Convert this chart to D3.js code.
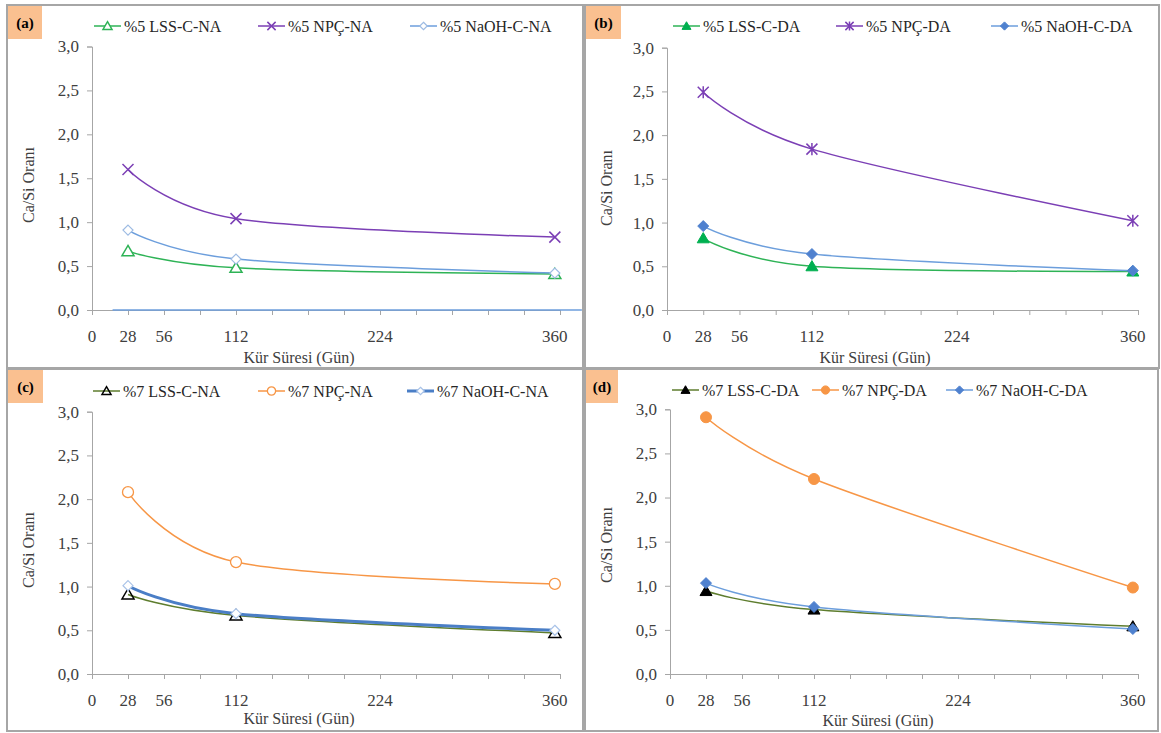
<!DOCTYPE html>
<html><head><meta charset="utf-8">
<script src="https://cdn.jsdelivr.net/npm/d3@7"></script>
<style>
body{margin:0;background:#fff}
svg{display:block}
svg text{font-family:"Liberation Serif","Times New Roman",serif !important}
</style>
</head><body>
<svg id="chart" width="1161" height="733"></svg>
<script>
// ---- data ----
const days = [28, 112, 360];
const xTickLabels = [0, 28, 56, 112, 224, 360];
const xTickMarks = d3.range(0, 365, 28);
const yTicks = [0, 0.5, 1.0, 1.5, 2.0, 2.5, 3.0];
const xTitle = "Kür Süresi (Gün)";
const yTitle = "Ca/Si Oranı";

const aNames = ["%5 LSS-C-NA", "%5 NPÇ-NA", "%5 NaOH-C-NA"];
const aLSS  = [0.67, 0.48, 0.41];
const aNPC  = [1.60, 1.04, 0.83];
const aNaOH = [0.91, 0.58, 0.42];
const aZeroDays = [16, 381];
const aZeroVals = [0, 0];

const bNames = ["%5 LSS-C-DA", "%5 NPÇ-DA", "%5 NaOH-C-DA"];
const bLSS  = [0.82, 0.50, 0.44];
const bNPC  = [2.49, 1.84, 1.02];
const bNaOH = [0.96, 0.64, 0.45];

const cNames = ["%7 LSS-C-NA", "%7 NPÇ-NA", "%7 NaOH-C-NA"];
const cLSS  = [0.91, 0.67, 0.47];
const cNPC  = [2.08, 1.28, 1.03];
const cNaOH = [1.01, 0.69, 0.50];

const dNames = ["%7 LSS-C-DA", "%7 NPÇ-DA", "%7 NaOH-C-DA"];
const dLSS  = [0.94, 0.73, 0.54];
const dNPC  = [2.91, 2.21, 0.98];
const dNaOH = [1.03, 0.76, 0.51];

// ---- drawing ----
const FONT = '"Liberation Serif", "Times New Roman", serif';
const svg = d3.select("#chart");
const fmt = v => d3.format(".1f")(v).replace(".", ",");

function markerPath(type, s) {
  const h = s / 2;
  if (type === "tri") return `M0,${-h*0.95}L${h},${h*0.75}L${-h},${h*0.75}Z`;
  if (type === "diamond") return `M0,${-h}L${h},0L0,${h}L${-h},0Z`;
  if (type === "x") return `M${-h},${-h}L${h},${h}M${-h},${h}L${h},${-h}`;
  if (type === "star") return `M${-h},${-h}L${h},${h}M${-h},${h}L${h},${-h}M0,${-h*1.1}L0,${h*1.1}`;
  if (type === "circle") return `M${h},0A${h},${h} 0 1,1 ${-h},0A${h},${h} 0 1,1 ${h},0Z`;
  return "";
}

function drawMarker(g, m, x, y, scale) {
  const s = m.size * (scale || 1);
  const p = g.append("path")
    .attr("transform", `translate(${x},${y})`)
    .attr("d", markerPath(m.type, s));
  if (m.type === "x" || m.type === "star") {
    p.attr("fill", "none").attr("stroke", m.stroke).attr("stroke-width", 1.5);
  } else {
    p.attr("fill", m.fill).attr("stroke", m.stroke).attr("stroke-width", m.sw || 1.3);
  }
}

function drawPanel(cfg) {
  const g = svg.append("g").style("font-family", FONT);
  g.append("rect").attr("x", cfg.frame[0]).attr("y", cfg.frame[1])
    .attr("width", cfg.frame[2]).attr("height", cfg.frame[3])
    .attr("fill", "#fff").attr("stroke", "#a6a6a6").attr("stroke-width", 2);
  g.append("rect").attr("x", cfg.frame[0] + 1).attr("y", cfg.frame[1] + 1)
    .attr("width", cfg.labW).attr("height", 33).attr("fill", "#fac090");
  g.append("text").attr("x", cfg.frame[0] + 1 + cfg.labW / 2).attr("y", cfg.frame[1] + 23)
    .attr("text-anchor", "middle").attr("font-weight", "bold").attr("font-size", 15)
    .style("font-family", FONT).attr("fill", "#000").text(cfg.label);

  const x = d3.scaleLinear().domain([0, 364]).range([cfg.x0, cfg.x1]);
  const y = d3.scaleLinear().domain([0, 3]).range([cfg.yb, cfg.yt]);

  const yAxis = g.append("g").attr("transform", `translate(${cfg.x0},0)`)
    .call(d3.axisLeft(y).tickValues(yTicks).tickFormat(fmt).tickSize(5).tickPadding(8));
  yAxis.attr("font-family", null).attr("font-size", 17);
  yAxis.select(".domain").attr("stroke", "#a6a6a6").attr("stroke-width", 1);
  yAxis.selectAll(".tick line").attr("stroke", "#a6a6a6");
  yAxis.selectAll(".tick text").attr("font-size", 17).attr("fill", "#404040").style("font-family", FONT);

  const xAxis = g.append("g").attr("transform", `translate(0,${cfg.yb})`)
    .call(d3.axisBottom(x).tickValues(xTickMarks).tickFormat("").tickSize(5).tickSizeOuter(0));
  xAxis.attr("font-family", null);
  xAxis.select(".domain").attr("stroke", "#a6a6a6").attr("stroke-width", 1);
  xAxis.selectAll(".tick line").attr("stroke", "#a6a6a6");
  g.selectAll(null).data(xTickLabels).enter().append("text")
    .attr("x", d => x(d)).attr("y", cfg.yb + 32)
    .attr("text-anchor", "middle").attr("font-size", 17).attr("fill", "#404040")
    .style("font-family", FONT).text(d => d);

  g.append("text").attr("x", cfg.xTitle[0]).attr("y", cfg.xTitle[1])
    .attr("text-anchor", "middle").attr("font-size", 16).attr("fill", "#404040")
    .style("font-family", FONT).text(xTitle);
  g.append("text").attr("transform", `translate(${cfg.yTitle[0]},${cfg.yTitle[1]}) rotate(-90)`)
    .attr("text-anchor", "middle").attr("font-size", 16).attr("fill", "#404040")
    .style("font-family", FONT).text(yTitle);

  const line = d3.line().x(d => x(d[0])).y(d => y(d[1])).curve(d3.curveCatmullRom.alpha(0));

  (cfg.extra || []).forEach(e => {
    g.append("path").attr("d", d3.line().x(d => x(d[0])).y(d => y(d[1]))(d3.zip(e.days, e.vals)))
      .attr("fill", "none").attr("stroke", e.color).attr("stroke-width", 1.5);
  });

  cfg.series.forEach(s => {
    g.append("path").attr("d", line(d3.zip(days, s.values))).attr("fill", "none")
      .attr("stroke", s.color).attr("stroke-width", s.lw || 1.5);
  });
  cfg.series.forEach(s => {
    d3.zip(days, s.values).forEach(p => drawMarker(g, s.marker, x(p[0]), y(p[1])));
  });

  cfg.series.forEach((s, i) => {
    const lx = cfg.legX[i], ly = cfg.legY;
    g.append("line").attr("x1", lx).attr("x2", lx + 27).attr("y1", ly).attr("y2", ly)
      .attr("stroke", s.color).attr("stroke-width", s.lw || 1.5);
    drawMarker(g, s.marker, lx + 13.5, ly, 0.75);
    g.append("text").attr("x", lx + 30).attr("y", ly + 5.5).attr("font-size", 16)
      .attr("fill", "#262626").style("font-family", FONT).text(s.name);
  });
}

const green = "#2eb356", purple = "#7b3fb5", ltblue = "#6c9edc", blue = "#4f81cf",
      orange = "#f79646", olive = "#5e7d2e", nblue = "#4a7ec6";

drawPanel({
  frame: [7, 5, 576, 363], label: "(a)", labW: 34,
  x0: 92, x1: 560, yt: 46.5, yb: 310,
  xTitle: [299, 363], yTitle: [34, 185],
  legX: [94, 258, 410], legY: 26,
  extra: [{days: aZeroDays, vals: aZeroVals, color: ltblue}],
  series: [
    {name: aNames[0], values: aLSS, color: green, marker: {type: "tri", size: 12, fill: "#fff", stroke: green, sw: 1.5}},
    {name: aNames[1], values: aNPC, color: purple, marker: {type: "x", size: 11, stroke: purple}},
    {name: aNames[2], values: aNaOH, color: ltblue, marker: {type: "diamond", size: 10, fill: "#fff", stroke: "#9dbbe3", sw: 1.2}}
  ]
});

drawPanel({
  frame: [585, 5, 574, 363], label: "(b)", labW: 35,
  x0: 667, x1: 1138, yt: 47.7, yb: 310,
  xTitle: [875, 363], yTitle: [612, 188],
  legX: [673, 836, 991], legY: 26,
  series: [
    {name: bNames[0], values: bLSS, color: green, marker: {type: "tri", size: 12, fill: "#00b050", stroke: "#00b050", sw: 1}},
    {name: bNames[1], values: bNPC, color: purple, marker: {type: "star", size: 11, stroke: purple}},
    {name: bNames[2], values: bNaOH, color: ltblue, marker: {type: "diamond", size: 11, fill: blue, stroke: blue, sw: 1}}
  ]
});

drawPanel({
  frame: [7, 369, 576, 362], label: "(c)", labW: 35,
  x0: 92, x1: 560, yt: 411.7, yb: 674,
  xTitle: [299, 724], yTitle: [34, 550],
  legX: [93, 258, 407], legY: 391,
  series: [
    {name: cNames[0], values: cLSS, color: olive, marker: {type: "tri", size: 12, fill: "none", stroke: "#000", sw: 1.5}},
    {name: cNames[1], values: cNPC, color: orange, marker: {type: "circle", size: 11, fill: "#fff", stroke: orange, sw: 1.3}},
    {name: cNames[2], values: cNaOH, color: nblue, lw: 3, marker: {type: "diamond", size: 10, fill: "#fff", stroke: "#a9c3e8", sw: 1.2}}
  ]
});

drawPanel({
  frame: [585, 369, 573, 362], label: "(d)", labW: 32,
  x0: 670, x1: 1138, yt: 409.3, yb: 674,
  xTitle: [878, 726], yTitle: [612, 545],
  legX: [672, 812, 946], legY: 390,
  series: [
    {name: dNames[0], values: dLSS, color: olive, marker: {type: "tri", size: 12, fill: "#000", stroke: "#000", sw: 1}},
    {name: dNames[1], values: dNPC, color: orange, marker: {type: "circle", size: 11, fill: orange, stroke: orange, sw: 1}},
    {name: dNames[2], values: dNaOH, color: ltblue, marker: {type: "diamond", size: 11, fill: blue, stroke: blue, sw: 1}}
  ]
});
</script>
</body></html>
